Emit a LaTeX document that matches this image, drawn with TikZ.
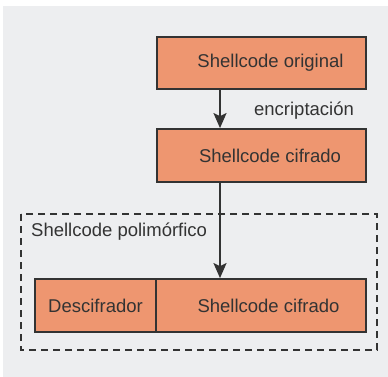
\documentclass[tikz,border=0pt]{standalone}
\usepackage{fontspec}
\setmainfont{Liberation Sans}
\usetikzlibrary{arrows.meta}
\definecolor{panel}{HTML}{EDEEF0}
\definecolor{boxfill}{HTML}{EE9670}
\definecolor{ink}{HTML}{333333}
\tikzset{
  block/.style={draw=ink, line width=1.8pt, fill=boxfill, text=ink,
    minimum height=53pt, inner sep=0pt, font=\fontsize{18.5}{20}\selectfont},
  flow/.style={draw=ink, line width=1.8pt,
    -{Stealth[length=15pt, width=13pt, inset=3pt]}},
  note/.style={text=ink, inner sep=0pt, font=\fontsize{18.5}{20}\selectfont},
  frame/.style={draw=ink, line width=1.6pt, dash pattern=on 7pt off 5pt}
}
\begin{document}
\begin{tikzpicture}[x=1pt, y=-1pt]
  \useasboundingbox (0,0) rectangle (388,377);
  \fill[white] (0,0) rectangle (388,377);
  \fill[panel] (3,6) rectangle (388,377);

  % dashed container of the polymorphic shellcode
  \draw[frame] (21,214) rectangle (377,350);
  \node[note, anchor=west] (poly) at (31,232) {Shellcode polimórfico};

  % top chain
  \node[block, minimum width=209pt, minimum height=52pt] (orig) at (261.5,63)
    {\hspace*{18pt}Shellcode original};
  \node[block, minimum width=209pt] (cif) at (261.5,155.5)
    {\hspace*{17pt}Shellcode cifrado};

  % bottom pair inside the container
  \node[block, minimum width=121pt] (desc) at (95.5,305.5) {Descifrador};
  \node[block, minimum width=210pt] (cif2) at (261,305.5)
    {\hspace*{15pt}Shellcode cifrado};

  \coordinate (ax) at (220,0);
  \draw[flow] (orig.south -| ax) -- (cif.north -| ax);
  \draw[flow] (cif.south -| ax) -- (cif2.north -| ax);
  \node[note] (enc) at (304,111) {encriptación};
\end{tikzpicture}
\end{document}
